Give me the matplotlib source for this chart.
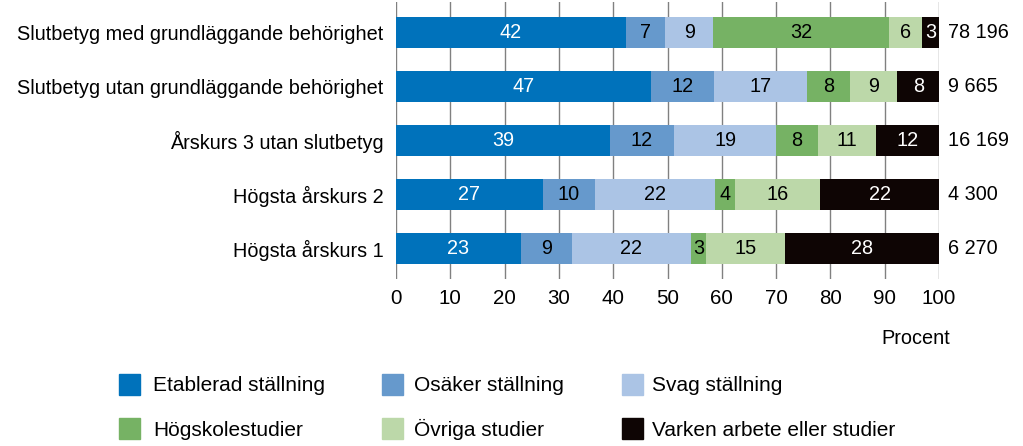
import matplotlib.pyplot as plt
from matplotlib.patches import Rectangle
import numpy as np

plt.rcParams['font.family'] = ['Liberation Sans', 'DejaVu Sans']

categories = ['Slutbetyg med grundläggande behörighet',
              'Slutbetyg utan grundläggande behörighet',
              'Årskurs 3 utan slutbetyg',
              'Högsta årskurs 2',
              'Högsta årskurs 1']
totals = ['78 196', '9 665', '16 169', '4 300', '6 270']

series = ['Etablerad ställning', 'Osäker ställning', 'Svag ställning',
          'Högskolestudier', 'Övriga studier', 'Varken arbete eller studier']

etablerad = [42.4, 47.0, 39.4, 27.0, 23.0]
osaker = [7.2, 11.6, 11.8, 9.6, 9.4]
svag = [8.8, 17.1, 18.8, 22.1, 21.9]
hogskola = [32.4, 7.9, 7.7, 3.7, 2.8]
ovriga = [6.1, 8.7, 10.6, 15.7, 14.6]
varken = [3.1, 7.7, 11.7, 21.9, 28.3]

colors = ['#0072bb', '#6699cc', '#abc4e5', '#76b264', '#bcd8a9', '#0e0504']
text_colors = ['white', 'black', 'black', 'black', 'black', 'white']

data = [etablerad, osaker, svag, hogskola, ovriga, varken]

fs = 14.3
W, H = 1023, 446

fig = plt.figure(figsize=(10.23, 4.46), dpi=100)
ax = fig.add_axes([0.387, 0.3744, 0.531, 0.621])

y = np.arange(len(categories))
left = np.zeros(len(categories))
for vals, col, tcol, name in zip(data, colors, text_colors, series):
    vals = np.array(vals)
    ax.barh(y, vals, left=left, height=0.57, color=col, label=name, zorder=3)
    for yi, v, l in zip(y, vals, left):
        ax.text(l + v / 2, yi, f'{round(v)}', ha='center', va='center',
                color=tcol, fontsize=fs, zorder=4)
    left += vals

for yi, t in zip(y, totals):
    ax.text(1.016, yi, t, transform=ax.get_yaxis_transform(), ha='left',
            va='center', fontsize=fs)

ax.set_xlim(0, 100)
ax.set_ylim(4.57, -0.56)
ax.set_xticks(np.arange(0, 101, 10))
ax.set_yticks(y)
ax.set_yticklabels(categories, fontsize=fs)
ax.tick_params(axis='y', length=0, pad=9)
ax.tick_params(axis='x', length=0, pad=7, labelsize=fs + 0.5)
ax.grid(axis='x', color='#808080', linewidth=1, zorder=0)
for s in ['top', 'right', 'bottom', 'left']:
    ax.spines[s].set_visible(False)

fig.text(0.929, 0.242, 'Procent', ha='right', va='center', fontsize=fs)

# legend: 3 columns x 2 rows, placed by pixel position
sq_x = [119, 382, 622]
txt_x = [153, 414, 652]
sq_top = [374, 418]
txt_base = [391, 436]
sq = 21
for i, (name, col) in enumerate(zip(series, colors)):
    r, c = divmod(i, 3)
    fig.add_artist(Rectangle((sq_x[c] / W, 1 - (sq_top[r] + sq) / H),
                             sq / W, sq / H, color=col,
                             transform=fig.transFigure))
    fig.text(txt_x[c] / W, 1 - txt_base[r] / H, name,
             ha='left', va='baseline', fontsize=15)

fig.savefig('out.png', dpi=100)
